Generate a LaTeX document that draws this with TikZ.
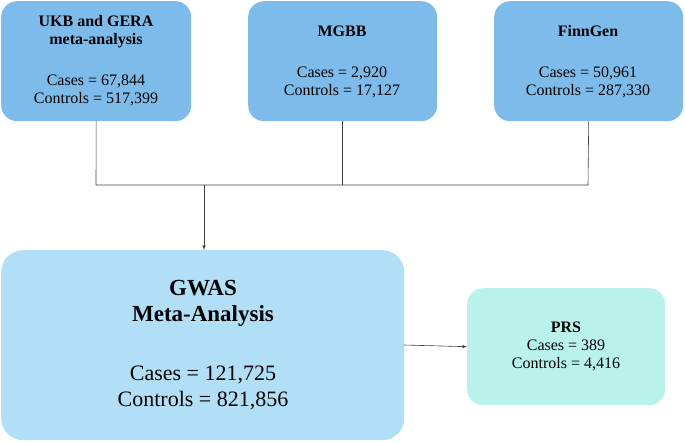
\documentclass[tikz,border=0pt]{standalone}
\usepackage{fontspec}
\setmainfont{Liberation Serif}
\begin{document}
\begin{tikzpicture}[x=1pt,y=-1pt,
  top/.style={draw=none,fill=topc,rounded corners=16pt,anchor=north west},
  ln/.style={draw=black!75,line width=0.6pt},
  txt/.style={align=center,font=\fontsize{16}{18}\selectfont}]
\definecolor{topc}{HTML}{7DBCEA}
\definecolor{bigc}{HTML}{B2DFF8}
\definecolor{prsc}{HTML}{B9F2EB}
\useasboundingbox (0,0) rectangle (685,442);
\node[top,minimum width=190pt,minimum height=120pt] (a) at (1,1) {};
\node[top,minimum width=189pt,minimum height=120pt] (b) at (248,1) {};
\node[top,minimum width=189pt,minimum height=120pt] (c) at (494,1) {};
\node[txt,font=\fontsize{16}{18}\selectfont\bfseries] at (96,32) {UKB and GERA\\meta-analysis};
\node[txt] at (96,90) {Cases = 67,844\\Controls = 517,399};
\node[txt,font=\fontsize{16}{18}\selectfont\bfseries] at (342,31) {MGBB};
\node[txt] at (342,82) {Cases = 2,920\\Controls = 17,127};
\node[txt,font=\fontsize{16}{18}\selectfont\bfseries] at (588,31) {FinnGen};
\node[txt] at (588,82) {Cases = 50,961\\Controls = 287,330};
\node[fill=bigc,rounded corners=22pt,anchor=north west,minimum width=403pt,minimum height=190pt] (g) at (1,250) {};
\node[align=center,font=\fontsize{23}{26}\selectfont\bfseries] at (203,303) {GWAS\\Meta-Analysis};
\node[align=center,font=\fontsize{22}{26}\selectfont] at (203,388) {Cases = 121,725\\Controls = 821,856};
\node[fill=prsc,rounded corners=16pt,anchor=north west,minimum width=198pt,minimum height=117pt] (p) at (467,288) {};
\node[txt] at (566,346) {\textbf{PRS}\\Cases = 389\\Controls = 4,416};
\coordinate (ja) at (96,185);
\coordinate (jc) at (588,185);
\coordinate (jm) at (204,185);
\draw[ln] (a.south) -- (ja) -- (jc) -- (c.south);
\draw[ln] (b.south) -- (b.south |- ja);
\draw[ln,-latex] (jm) -- (jm |- g.north);
\draw[ln,-latex] (404,345) -- (p.west);
\end{tikzpicture}
\end{document}
